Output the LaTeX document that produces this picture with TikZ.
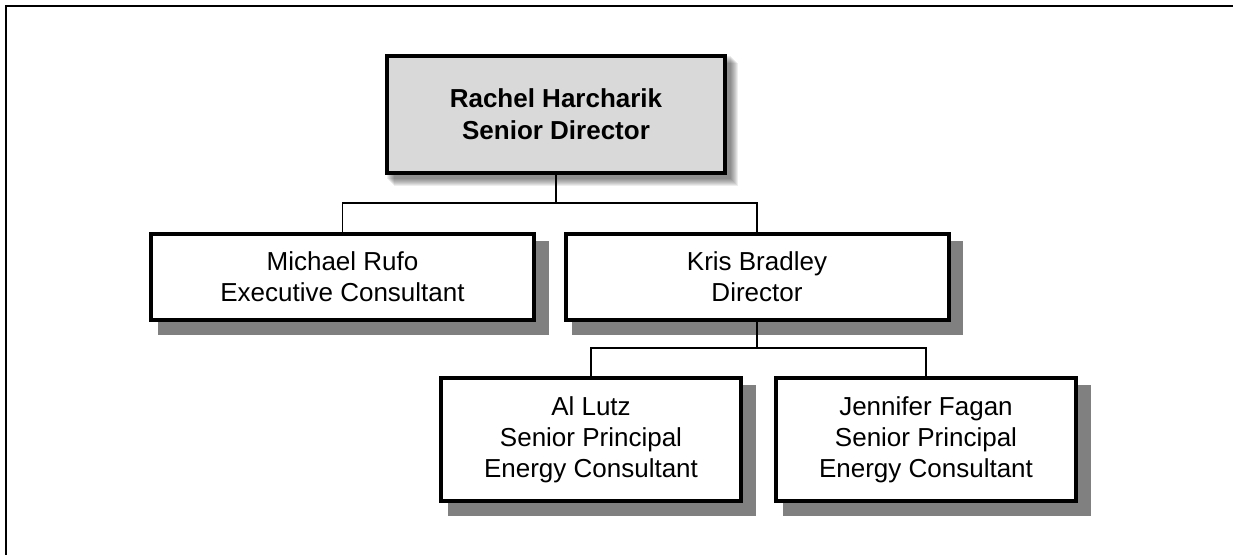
\documentclass[tikz,border=0pt]{standalone}
\usepackage{fontspec}
\setmainfont{Liberation Sans}
\usetikzlibrary{backgrounds}
\definecolor{topfill}{HTML}{D9D9D9}
\definecolor{shadowgray}{HTML}{808080}
\begin{document}
\begin{tikzpicture}[x=0.5pt,y=-0.5pt,
  box/.style={draw=black, line width=2pt, fill=white, align=center, inner sep=0pt,
              font=\fontsize{13}{15.5}\selectfont},
  topbox/.style={box, fill=topfill, font=\fontsize{13}{16}\selectfont\bfseries},
  conn/.style={draw=black, line width=0.75pt},
  frame/.style={draw=black, line width=1pt},
  hardshadow/.style={fill=shadowgray},
  softshadow/.style={fill=black, opacity=0.07}
]
\useasboundingbox (0,0) rectangle (1233,554);
\clip (0,0) rectangle (1233,554);
\draw[frame] (6,580) -- (6,6) -- (1260,6);

% nodes
\node[topbox, minimum width=169pt, minimum height=58.5pt] (rh) at (556,114.5)
  {Rachel Harcharik\\Senior Director};
\node[box, minimum width=191.5pt, minimum height=43pt] (mr) at (342.5,277)
  {Michael Rufo\\Executive Consultant};
\node[box, minimum width=191.5pt, minimum height=43pt] (kb) at (757,277)
  {Kris Bradley\\Director};
\node[box, minimum width=150pt, minimum height=61.5pt] (al) at (591,439.5)
  {Al Lutz\\Senior Principal\\Energy Consultant};
\node[box, minimum width=150pt, minimum height=61.5pt] (jf) at (926,439.5)
  {Jennifer Fagan\\Senior Principal\\Energy Consultant};

% shadows
\begin{pgfonlayer}{background}
  \foreach \n in {mr,kb,al,jf}{
    \fill[hardshadow] ([shift={(8.5,8.5)}]\n.north west) rectangle ([shift={(12.5,12.5)}]\n.south east);
  }
  \foreach \d in {1,2,...,8}{
    \fill[softshadow] ([shift={(\d+1,\d+1)}]rh.north west) rectangle ([shift={(\d+3,\d+3)}]rh.south east);
  }
\end{pgfonlayer}

% connectors
\coordinate (j1) at (556,203);
\coordinate (j2) at (757,348);
\draw[conn] (rh) -- (j1);
\draw[conn] (mr.north) |- (j1) -| (kb.north);
\draw[conn] (kb) -- (j2);
\draw[conn] (al.north) |- (j2) -| (jf.north);
\end{tikzpicture}
\end{document}
